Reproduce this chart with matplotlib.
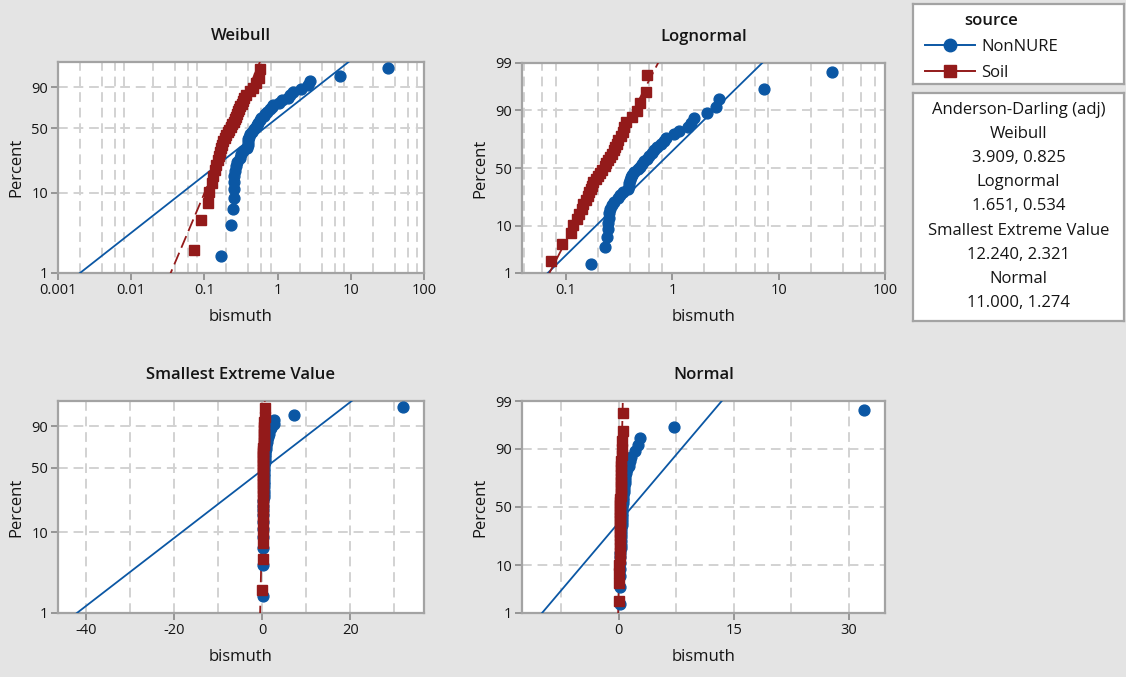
import numpy as np
import matplotlib.pyplot as plt
from matplotlib.lines import Line2D
from matplotlib.ticker import FixedLocator, FuncFormatter
from statistics import NormalDist

plt.rcParams['font.family'] = ['Open Sans', 'DejaVu Sans']

# bismuth by source, sorted
nonnure = [0.17, 0.23, 0.245, 0.25, 0.25, 0.255, 0.255, 0.26, 0.27, 0.28,
           0.31, 0.32, 0.34, 0.38, 0.39, 0.39, 0.40, 0.41, 0.42, 0.44,
           0.47, 0.50, 0.52, 0.54, 0.58, 0.60, 0.65, 0.67, 0.72, 0.78,
           0.83, 0.87, 1.03, 1.15, 1.39, 1.50, 1.60, 2.10, 2.60, 2.75,
           7.2, 32.0]
soil = [0.072, 0.091, 0.112, 0.115, 0.128, 0.132, 0.14, 0.145, 0.155, 0.16,
        0.165, 0.17, 0.175, 0.18, 0.19, 0.20, 0.21, 0.22, 0.23, 0.24,
        0.25, 0.26, 0.27, 0.28, 0.29, 0.30, 0.31, 0.33, 0.34, 0.35,
        0.37, 0.42, 0.46, 0.50, 0.56, 0.58]

# fitted parameters (NonNURE, Soil)
weibull_fit = [(0.731, 1.08), (2.2, 0.28)]        # shape, scale
lognormal_fit = [(-0.377, 0.998), (-1.487, 0.506)]  # location, scale (ln)
sev_fit = [(4.41, 10.09), (0.32, 0.17)]           # location, scale
normal_fit = [(1.74, 5.03), (0.253, 0.13)]        # mean, sd

# Anderson-Darling (adj) per distribution: NonNURE, Soil
ad_names = ['Weibull', 'Lognormal', 'Smallest Extreme Value', 'Normal']
ad_values = [(3.909, 0.825), (1.651, 0.534), (12.240, 2.321), (11.000, 1.274)]

groups = ['NonNURE', 'Soil']
colors = ['#0b57a4', '#931a1a']
markers = ['o', 's']
text_col = '#151515'
frame_col = '#a3a3a3'

W, H = 1126, 677
fig = plt.figure(figsize=(W / 100, H / 100), dpi=100, facecolor='#e4e4e4')


def px_axes(x0, y0, x1, y1):
    return fig.add_axes([x0 / W, 1 - y1 / H, (x1 - x0) / W, (y1 - y0) / H])


_nd = NormalDist()
_ppf = np.vectorize(_nd.inv_cdf, otypes=[float])
_cdf = np.vectorize(_nd.cdf, otypes=[float])


def _q(p):
    return np.clip(np.asarray(p, dtype=float) / 100, 1e-9, 1 - 1e-9)


def wb_fwd(p):
    return np.log(-np.log1p(-_q(p)))


def wb_inv(y):
    return 100 * (-np.expm1(-np.exp(np.asarray(y, dtype=float))))


def nm_fwd(p):
    return _ppf(_q(p))


def nm_inv(z):
    return 100 * _cdf(np.asarray(z, dtype=float))


def plot_pos(n):
    # median ranks
    return 100 * (np.arange(1, n + 1) - 0.3) / (n + 0.4)


pct = np.linspace(0.3, 99.95, 600)
q = pct / 100


def line_weibull(par):
    shape, scale = par
    return scale * (-np.log1p(-q)) ** (1 / shape)


def line_lognormal(par):
    mu, s = par
    return np.exp(mu + s * _ppf(q))


def line_sev(par):
    mu, s = par
    return mu + s * np.log(-np.log1p(-q))


def line_normal(par):
    mu, s = par
    return mu + s * _ppf(q)


panels = [
    dict(title='Weibull', box=(58, 62, 424, 273), scale=(wb_fwd, wb_inv),
         ylim=(1, 99.2), yticks=[1, 10, 50, 90], xlog=True, xlim=(0.001, 100),
         xticks=[0.001, 0.01, 0.1, 1, 10, 100],
         xgrid=[m * 10.0 ** k for k in range(-3, 2) for m in (2, 4, 6, 8)],
         fit=weibull_fit, line=line_weibull),
    dict(title='Lognormal', box=(522, 63, 885, 273), scale=(nm_fwd, nm_inv),
         ylim=(1, 99), yticks=[1, 10, 50, 90, 99], xlog=True, xlim=(0.0385, 100),
         xticks=[0.1, 1, 10, 100],
         xgrid=[0.04, 0.06, 0.08] + [m * 10.0 ** k for k in range(-1, 2) for m in (2, 4, 6, 8)],
         fit=lognormal_fit, line=line_lognormal),
    dict(title='Smallest Extreme Value', box=(58, 401, 424, 613), scale=(wb_fwd, wb_inv),
         ylim=(1, 99.2), yticks=[1, 10, 50, 90], xlog=False, xlim=(-46.3, 36.7),
         xticks=[-40, -20, 0, 20], xgrid=list(range(-40, 40, 10)),
         fit=sev_fit, line=line_sev),
    dict(title='Normal', box=(522, 401, 885, 613), scale=(nm_fwd, nm_inv),
         ylim=(1, 99), yticks=[1, 10, 50, 90, 99], xlog=False, xlim=(-12.57, 34.7),
         xticks=[0, 15, 30], xgrid=[-7.5, 0, 7.5, 15, 22.5, 30],
         fit=normal_fit, line=line_normal),
]

grid_kw = dict(color='#d2d2d2', linewidth=1.4, linestyle=(0, (5, 3)))

for pn in panels:
    ax = px_axes(*pn['box'])
    ax.set_facecolor('white')
    if pn['xlog']:
        ax.set_xscale('log')
    ax.set_yscale('function', functions=pn['scale'])

    # fitted lines
    for gi, par in enumerate(pn['fit']):
        ls = '-' if gi == 0 else (0, (7, 3))
        ax.plot(pn['line'](par), pct, color=colors[gi], lw=1.3, ls=ls, zorder=3)
    # data points
    for gi, data in enumerate([nonnure, soil]):
        ax.plot(data, plot_pos(len(data)), ls='none', marker=markers[gi],
                ms=7.8, color=colors[gi], mec=colors[gi], zorder=4 + gi)

    ax.set_xlim(*pn['xlim'])
    ax.set_ylim(*pn['ylim'])

    ax.xaxis.remove_overlapping_locs = False
    ax.yaxis.remove_overlapping_locs = False
    ax.xaxis.set_major_locator(FixedLocator(pn['xticks']))
    ax.xaxis.set_major_formatter(FuncFormatter(lambda v, _: '%g' % v))
    ax.xaxis.set_minor_locator(FixedLocator(pn['xgrid']))
    ax.xaxis.set_minor_formatter(FuncFormatter(lambda v, _: ''))
    ax.yaxis.set_major_locator(FixedLocator(pn['yticks']))
    ax.yaxis.set_major_formatter(FuncFormatter(lambda v, _: '%g' % v))
    ax.yaxis.set_minor_locator(FixedLocator([10, 50, 90]))
    ax.yaxis.set_minor_formatter(FuncFormatter(lambda v, _: ''))

    ax.set_axisbelow(True)
    ax.grid(False, which='major')
    ax.grid(True, which='minor', **grid_kw)
    ax.tick_params(which='major', length=5, width=1.3, color='#8f8f8f',
                   labelsize=10.5, labelcolor=text_col, pad=2)
    ax.tick_params(which='minor', length=0)
    for sp in ax.spines.values():
        sp.set_color(frame_col)
        sp.set_linewidth(1.6)

    ax.set_title(pn['title'], fontsize=12, fontweight='semibold', pad=16, color=text_col)
    ax.set_xlabel('bismuth', fontsize=12, labelpad=8, color=text_col)
    ax.set_ylabel('Percent', fontsize=12, labelpad=5, color=text_col)

# source legend
lax = px_axes(913, 4, 1124, 84)
lax.set_xticks([])
lax.set_yticks([])
for sp in lax.spines.values():
    sp.set_color(frame_col)
    sp.set_linewidth(1.6)
handles = [Line2D([], [], color=c, marker=m, ms=9, lw=1.4) for c, m in zip(colors, markers)]
leg = lax.legend(handles, groups, title='source', loc='upper left',
                 bbox_to_anchor=(0.0, 1.03), frameon=False,
                 fontsize=12, title_fontsize=12, handlelength=3.0, labelspacing=0.6,
                 borderaxespad=0.3, handletextpad=0.4)
for t in leg.get_texts():
    t.set_color(text_col)
leg.get_title().set_color(text_col)
leg.get_title().set_fontweight('semibold')

# Anderson-Darling box
aax = px_axes(913, 93, 1124, 321)
aax.set_xticks([])
aax.set_yticks([])
aax.set_xlim(0, 1)
aax.set_ylim(321, 93)
for sp in aax.spines.values():
    sp.set_color(frame_col)
    sp.set_linewidth(1.6)
lines = ['Anderson-Darling (adj)']
for name, (a, b) in zip(ad_names, ad_values):
    lines += [name, '%.3f, %.3f' % (a, b)]
for k, txt in enumerate(lines):
    aax.text(0.5, 110 + 24.1 * k, txt, ha='center', va='center', fontsize=12,
             color=text_col)

fig.savefig('out.png', dpi=100, facecolor=fig.get_facecolor())
